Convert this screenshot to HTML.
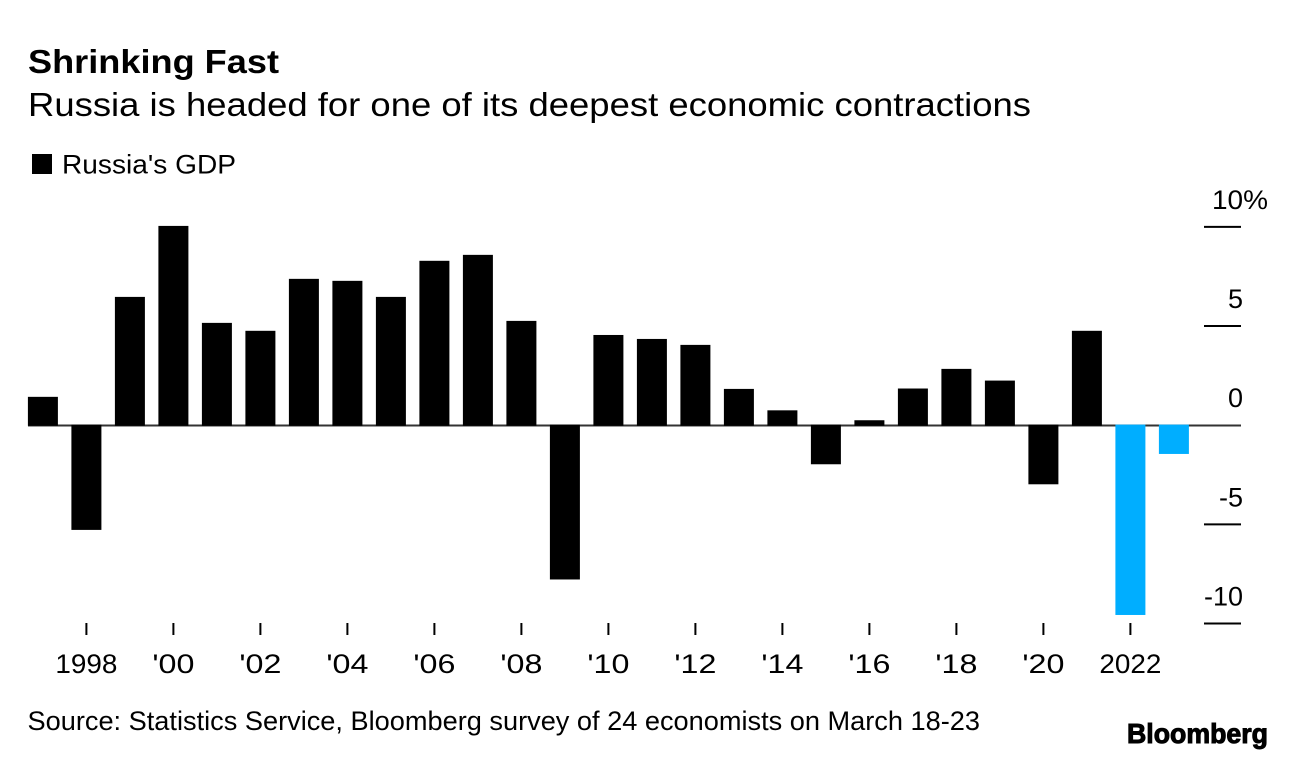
<!DOCTYPE html>
<html lang="en">
<head>
<meta charset="utf-8">
<title>Shrinking Fast</title>
<style>
html,body{margin:0;padding:0;background:#fff;}
body{width:1296px;height:760px;overflow:hidden;font-family:"Liberation Sans",Arial,sans-serif;}
svg{display:block;}
text{font-family:"Liberation Sans",Arial,sans-serif;fill:#000;}
</style>
</head>
<body>
<svg id="chart" width="1296" height="760" viewBox="0 0 1296 760" xmlns="http://www.w3.org/2000/svg">
  <text x="28" y="73" font-size="33" font-weight="700" textLength="251" lengthAdjust="spacingAndGlyphs">Shrinking Fast</text>
  <text x="28" y="116" font-size="33" textLength="1003" lengthAdjust="spacingAndGlyphs">Russia is headed for one of its deepest economic contractions</text>
  <rect x="32" y="154" width="20" height="20" fill="#000"/>
  <text x="62" y="173.5" font-size="27" textLength="174" lengthAdjust="spacingAndGlyphs">Russia's GDP</text>
  <g id="zero-axis"></g>
  <g id="bars"></g>
  <g id="y-axis"></g>
  <g id="x-axis"></g>
  <text x="27.5" y="730" font-size="27" textLength="952.5" lengthAdjust="spacingAndGlyphs">Source: Statistics Service, Bloomberg survey of 24 economists on March 18-23</text>
  <text x="1127" y="743" font-size="28" font-weight="700" stroke="#000" stroke-width="1" textLength="141" lengthAdjust="spacingAndGlyphs">Bloomberg</text>
</svg>
<script>
const years = [1997,1998,1999,2000,2001,2002,2003,2004,2005,2006,2007,2008,2009,2010,2011,2012,2013,2014,2015,2016,2017,2018,2019,2020,2021,2022,2023];
const gdpValues = [1.43,-5.28,6.47,10.05,5.16,4.76,7.38,7.28,6.47,8.29,8.59,5.26,-7.78,4.55,4.35,4.05,1.83,0.75,-1.97,0.25,1.85,2.84,2.25,-2.98,4.76,-9.57,-1.45];
const forecastYears = [2022,2023];
const yTickValues = [10,5,0,-5,-10];
const yTickLabels = ['10%','5','0','-5','-10'];
const xTickYears = [1998,2000,2002,2004,2006,2008,2010,2012,2014,2016,2018,2020,2022];
const xTickLabels = ['1998',"'00","'02","'04","'06","'08","'10","'12","'14","'16","'18","'20",'2022'];

const NS = 'http://www.w3.org/2000/svg';
const yScale = v => 425.2 - v * 19.83;
const xScale = yr => 42.9 + (yr - 1997) * 43.5;
const barWidth = 30;

const zeroAxis = document.getElementById('zero-axis');
const zero = document.createElementNS(NS, 'line');


zero.setAttribute('x1', 28);
zero.setAttribute('x2', 1241);
zero.setAttribute('y1', yScale(0) + 0.3);
zero.setAttribute('y2', yScale(0) + 0.3);
zero.setAttribute('stroke', '#333');
zero.setAttribute('stroke-width', 2);
zeroAxis.appendChild(zero);

const barsGroup = document.getElementById('bars');
years.forEach((yr, i) => {
  const v = gdpValues[i];
  const r = document.createElementNS(NS, 'rect');
  
  
  r.setAttribute('x', xScale(yr) - barWidth / 2);
  r.setAttribute('y', Math.min(yScale(v), yScale(0) - 0.6));
  r.setAttribute('width', barWidth);
  r.setAttribute('height', Math.abs(yScale(v) - yScale(0)) + 0.6);
  r.setAttribute('fill', forecastYears.includes(yr) ? '#00aeff' : '#000');
  barsGroup.appendChild(r);
});

const yAxis = document.getElementById('y-axis');
yTickValues.forEach((v, i) => {
  if (v !== 0) {
    const t = document.createElementNS(NS, 'line');
    
    
    t.setAttribute('x1', 1204);
    t.setAttribute('x2', 1241);
    t.setAttribute('y1', yScale(v));
    t.setAttribute('y2', yScale(v));
    t.setAttribute('stroke', '#000');
    t.setAttribute('stroke-width', 2);
    yAxis.appendChild(t);
  }
  const l = document.createElementNS(NS, 'text');
  
  
  l.setAttribute('x', i === 0 ? 1268 : 1243);
  l.setAttribute('y', yScale(v) - 18);
  l.setAttribute('font-size', 27);
  l.setAttribute('text-anchor', 'end');
  if (i === 0) {
    l.setAttribute('textLength', 56);
    l.setAttribute('lengthAdjust', 'spacingAndGlyphs');
  }
  l.textContent = yTickLabels[i];
  yAxis.appendChild(l);
});

const xAxis = document.getElementById('x-axis');
xTickYears.forEach((yr, i) => {
  const t = document.createElementNS(NS, 'line');
  
  
  t.setAttribute('x1', xScale(yr));
  t.setAttribute('x2', xScale(yr));
  t.setAttribute('y1', 623);
  t.setAttribute('y2', 635);
  t.setAttribute('stroke', '#000');
  t.setAttribute('stroke-width', 2);
  xAxis.appendChild(t);
  const l = document.createElementNS(NS, 'text');
  
  
  l.setAttribute('x', xScale(yr));
  l.setAttribute('y', 673);
  l.setAttribute('font-size', 27);
  l.setAttribute('text-anchor', 'middle');
  l.setAttribute('textLength', xTickLabels[i].length === 4 ? 62 : 42);
  l.setAttribute('lengthAdjust', 'spacingAndGlyphs');
  l.textContent = xTickLabels[i];
  xAxis.appendChild(l);
});
</script>
</body>
</html>
